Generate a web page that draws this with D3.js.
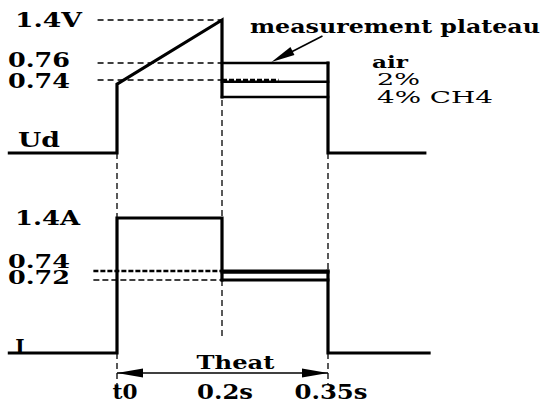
<!DOCTYPE html>
<html>
<head>
<meta charset="utf-8">
<title>Ud / I heater pulse</title>
<script src="https://cdn.jsdelivr.net/npm/d3@7"></script>
<style>
  body { margin: 0; background: #fff; }
  text { font-family: "DejaVu Serif", serif; font-weight: bold; fill: #000; }
</style>
</head>
<body>
<script>
// time marks (s)
var times      = [0, 0.2, 0.35];
var timeLabels = ["t0", "0.2s", "0.35s"];

// detector voltage Ud (V)
var voltTicks  = [1.4, 0.76, 0.74];
var voltLabels = ["1.4V", "0.76", "0.74"];
var udRamp     = [[0, 0.735], [0.2, 1.4]];

// heater current I (A)
var currTicks  = [1.4, 0.74, 0.72];
var currLabels = ["1.4A", "0.74", "0.72"];
var iHeat      = 1.4;

// measurement plateau, one level per gas
var gases      = ["air", "2%", "4% CH4"];
var udPlateau  = [0.76, 0.738, 0.72];
var iPlateau   = [0.74, 0.737, 0.72];

var W = 541, H = 405;
var tStart = -0.205, tEndU = 0.487, tEndI = 0.493;

// schematic (piecewise) scales
var x  = d3.scaleLinear().domain(times).range([117, 222, 328]);
var yU = d3.scaleLinear().domain([0, 0.72, 0.74, 0.76, 1.4]).range([153, 97, 80, 63, 20]);
var yI = d3.scaleLinear().domain([0, 0.72, 0.74, 1.4]).range([353, 280, 271, 218]);

var svg = d3.select("body").append("svg")
    .attr("width", W).attr("height", H);

function label(txt, px, py, w, size, anchor, weight) {
  var t = svg.append("text")
      .attr("x", px).attr("y", py)
      .attr("font-size", size)
      .attr("text-anchor", anchor || "start")
      .text(txt);
  if (weight) t.style("font-weight", weight);
  if (w) t.attr("textLength", w).attr("lengthAdjust", "spacingAndGlyphs");
  return t;
}

function dashed(x1, y1, x2, y2, sw, dash) {
  svg.append("line")
      .attr("x1", x1).attr("y1", y1).attr("x2", x2).attr("y2", y2)
      .attr("stroke", "#000")
      .attr("stroke-width", sw || 1.3)
      .attr("stroke-dasharray", dash || "6,4");
}

// ---- guide lines ----
voltTicks.forEach(function(v) {
  dashed(x(-0.037), yU(v), x(0.2), yU(v), 1.5);
});
dashed(x(0.2), yU(0.74), x(0.28), yU(0.74), 2.5, "5,2");
currTicks.slice(1).forEach(function(v, i) {
  dashed(x(-0.045), yI(v), x(0.2), yI(v), i === 0 ? 2.6 : 1.3, i === 0 ? "5,2" : "6,3");
});
dashed(x(0), yU(0), x(0), 385);
dashed(x(0.2), yU(1.4), x(0.2), 340);
dashed(x(0.35), yU(0), x(0.35), 385);

// ---- traces ----
var lineU = d3.line().x(function(d) { return x(d[0]); }).y(function(d) { return yU(d[1]); });
var lineI = d3.line().x(function(d) { return x(d[0]); }).y(function(d) { return yI(d[1]); });

function trace(gen, pts, sw) {
  svg.append("path")
      .attr("d", gen(pts))
      .attr("fill", "none")
      .attr("stroke", "#000")
      .attr("stroke-width", sw || 3.2)
      .attr("stroke-linejoin", "miter")
      .attr("stroke-linecap", "square");
}

trace(lineU, [[tStart, 0], [0, 0]].concat(udRamp).concat([[0.2, d3.min(udPlateau)]]));
udPlateau.forEach(function(v) { trace(lineU, [[0.2, v], [0.35, v]], 2.6); });
trace(lineU, [[0.35, d3.max(udPlateau)], [0.35, 0], [tEndU, 0]]);

trace(lineI, [[tStart, 0], [0, 0], [0, iHeat], [0.2, iHeat], [0.2, d3.min(iPlateau)]]);
iPlateau.forEach(function(v) { trace(lineI, [[0.2, v], [0.35, v]], 2.8); });
trace(lineI, [[0.35, d3.max(iPlateau)], [0.35, 0], [tEndI, 0]]);

// ---- Theat arrow ----
var ay = 373, x0 = x(0), x1 = x(0.35);
svg.append("line").attr("x1", x0).attr("y1", ay).attr("x2", x1).attr("y2", ay)
    .attr("stroke", "#000").attr("stroke-width", 1.5);
svg.append("path").attr("d", "M" + x0 + "," + ay + "l26,-4.5v9z").attr("fill", "#000");
svg.append("path").attr("d", "M" + x1 + "," + ay + "l-26,-4.5v9z").attr("fill", "#000");
label("Theat", (x0 + x1) / 2 + 13, ay - 4, 78, 19, "middle");

// ---- measurement plateau pointer ----
var px = x(0.27), py = yU(d3.max(udPlateau)) - 1;
svg.append("line").attr("x1", px + 51).attr("y1", py - 26).attr("x2", px + 12).attr("y2", py - 6)
    .attr("stroke", "#000").attr("stroke-width", 1.6);
svg.append("path").attr("d", "M" + px + "," + py + "l19,-15l4,8z").attr("fill", "#000");
label("measurement plateau", 250, 33, 290, 19);

// ---- gas labels ----
var gasX = [372, 377, 377], gasW = [36, 43, 116], gasDy = [5, 3, 6];
gases.forEach(function(g, i) {
  label(g, gasX[i], yU(udPlateau[i]) + gasDy[i], gasW[i], 17, "start", i === 0 ? "bold" : "normal");
});

// ---- axis labels ----
var vLabX = [15, 8, 8], vLabW = [67, 62, 62], vLabDy = [7, 4, 8];
voltLabels.forEach(function(s, i) {
  label(s, vLabX[i], yU(voltTicks[i]) + vLabDy[i], vLabW[i], 20);
});
var iLabX = [15, 8, 8], iLabW = [65, 62, 62], iLabDy = [7, -3, 4], iLabSize = [20, 18, 18];
currLabels.forEach(function(s, i) {
  label(s, iLabX[i], yI(currTicks[i]) + iLabDy[i], iLabW[i], iLabSize[i]);
});
label("Ud", 18, yU(0) - 6, 42, 20);
label("I", 20, yI(0) + 1, null, 20, "middle");

timeLabels.forEach(function(s, i) {
  var w = [25, 56, 73][i];
  label(s, x(times[i]) + (i === 0 ? 8 : 3), 399, w, 20, "middle");
});
</script>
</body>
</html>
